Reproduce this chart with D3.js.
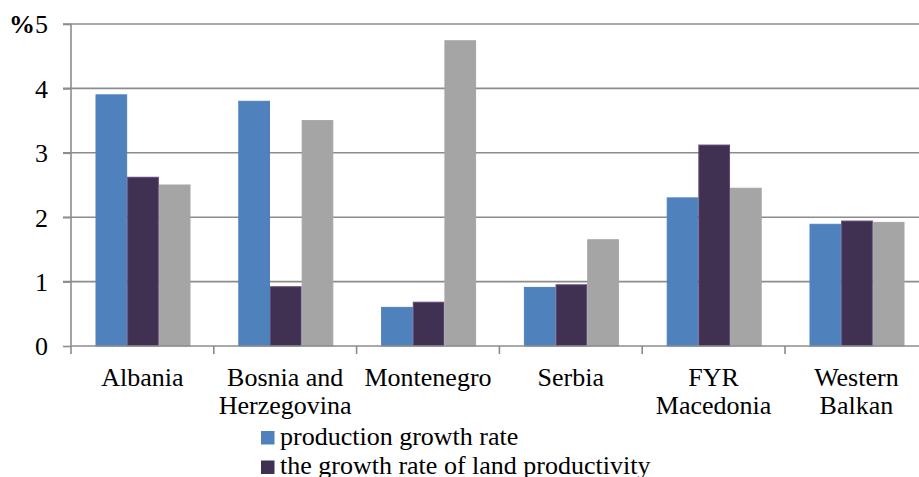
<!DOCTYPE html>
<html><head><meta charset="utf-8">
<script src="https://cdn.jsdelivr.net/npm/d3@7"></script>
</head><body style="margin:0">
<svg id="c" width="919" height="477" style="font-family:'Liberation Serif','Times New Roman',Tinos,serif"></svg>
<script>
const categories = [["Albania"], ["Bosnia and", "Herzegovina"], ["Montenegro"], ["Serbia"], ["FYR", "Macedonia"], ["Western", "Balkan"]];
const seriesNames = ["production growth rate", "the growth rate of land productivity", "series 3"];
const production = [3.9, 3.8, 0.6, 0.91, 2.3, 1.89];
const landProductivity = [2.62, 0.92, 0.68, 0.95, 3.12, 1.94];
const third = [2.5, 3.5, 4.74, 1.65, 2.45, 1.92];
const yTicks = [0, 1, 2, 3, 4, 5];
const yTickLabels = ["0", "1", "2", "3", "4", "%5"];
const colors = ["#4f81bd", "#403152", "#a5a5a5"];
const strokes = ["#4f81bd", "#5f497a", "#a5a5a5"];
const legendShown = [0, 1];
const fontFor = () => "'Times New Roman'";

const svg = d3.select("#c");
const catKeys = categories.map(c => c.join(" "));
const x = d3.scaleBand().domain(catKeys).range([71, 71 + 6 * 142.8]);
const xi = d3.scaleBand().domain(d3.range(3)).range([24.5, 119.5]);
const y = d3.scaleLinear().domain([0, 5]).range([346, 24]);
const values = [production, landProductivity, third];

svg.append("g").selectAll("line").data(yTicks.slice(1)).join("line")
  .attr("x1", 63).attr("x2", 930).attr("y1", d => y(d)).attr("y2", d => y(d))
  .attr("stroke", "#8c8c8c").attr("stroke-width", 1.6);

const groups = svg.append("g").selectAll("g").data(catKeys).join("g")
  .attr("transform", d => `translate(${x(d)},0)`);
groups.selectAll("rect").data((d, i) => values.map((v, s) => ({s, v: v[i]}))).join("rect")
  .attr("x", d => xi(d.s) + 0.5).attr("width", xi.bandwidth() - 1)
  .attr("y", d => y(d.v)).attr("height", d => y(0) - y(d.v))
  .attr("fill", d => colors[d.s]).attr("stroke", d => strokes[d.s]).attr("stroke-width", 1);

const yAxis = d3.axisLeft(y).tickValues(yTicks).tickSize(8).tickPadding(15).tickFormat((d, i) => yTickLabels[i]);
const ya = svg.append("g").attr("transform", "translate(71,0)").call(yAxis);
ya.attr("font-family", null).attr("font-size", null);
ya.select(".domain").attr("stroke", "#8c8c8c").attr("stroke-width", 1.6).attr("d", "M0,24V346");
ya.selectAll(".tick line").attr("stroke", "#8c8c8c").attr("stroke-width", 1.6);
ya.selectAll(".tick text").attr("font-size", 26).style("font-family", fontFor).attr("fill", "#000").attr("dy", "0.34em")
  .each(function(d, i) {
    const t = d3.select(this); const lab = yTickLabels[i];
    if (lab.startsWith("%")) {
      t.text(null);
      t.append("tspan").attr("font-weight", "bold").text("%");
      t.append("tspan").text(lab.slice(1));
    }
  });

const xg = svg.append("g");
xg.append("line").attr("x1", 71).attr("x2", 930).attr("y1", y(0)).attr("y2", y(0))
  .attr("stroke", "#8c8c8c").attr("stroke-width", 1.6);
xg.selectAll("line.tk").data(catKeys).join("line").attr("class", "tk")
  .attr("x1", d => x(d)).attr("x2", d => x(d)).attr("y1", y(0)).attr("y2", y(0) + 8)
  .attr("stroke", "#8c8c8c").attr("stroke-width", 1.6);
const catLines = [];
categories.forEach((c, i) => c.forEach((line, j) => catLines.push({i, j, line})));
svg.append("g").selectAll("text").data(catLines).join("text")
  .attr("x", d => x(catKeys[d.i]) + x.bandwidth() / 2).attr("y", d => 386 + d.j * 28)
  .attr("text-anchor", "middle").attr("font-size", 26).style("font-family", fontFor)
  .text(d => d.line);

const lg = svg.append("g");
lg.selectAll("rect").data(legendShown).join("rect")
  .attr("x", 261).attr("y", (d, i) => 431 + i * 29.5).attr("width", 13.5).attr("height", 13.5).attr("fill", d => colors[d]);
lg.selectAll("text").data(legendShown).join("text")
  .attr("x", 280).attr("y", (d, i) => 444.5 + i * 29.5).attr("font-size", 26).style("font-family", fontFor)
  .text(d => seriesNames[d]);
</script>
</body></html>
